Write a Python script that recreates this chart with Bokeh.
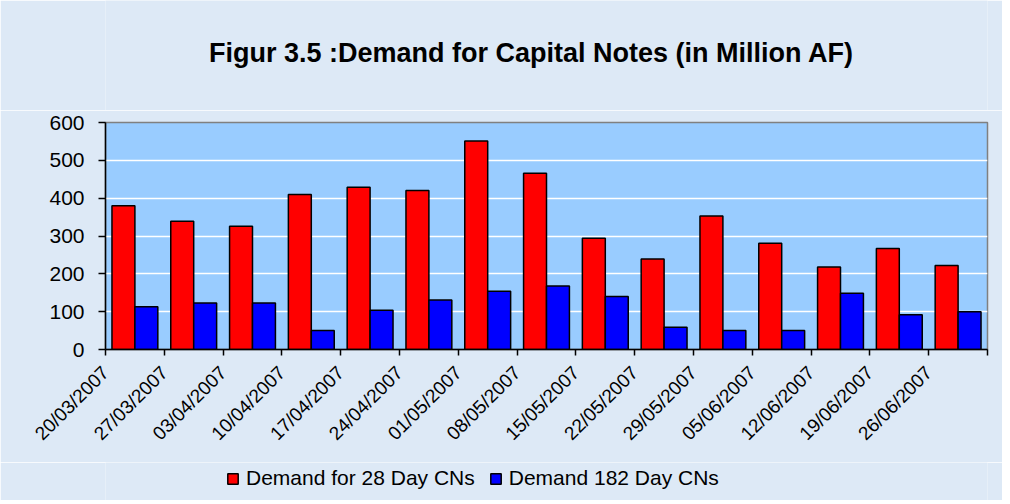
from bokeh.plotting import figure
from bokeh.models import FixedTicker, Legend, LegendItem, ColumnDataSource, Label
from bokeh.layouts import column
from bokeh.transform import dodge
from bokeh.embed import file_html
from bokeh.resources import INLINE
import math

dates = ["20/03/2007", "27/03/2007", "03/04/2007", "10/04/2007", "17/04/2007",
         "24/04/2007", "01/05/2007", "08/05/2007", "15/05/2007", "22/05/2007",
         "29/05/2007", "05/06/2007", "12/06/2007", "19/06/2007", "26/06/2007"]
demand_28 = [380, 339, 326, 410, 429, 420, 551, 466, 294, 239, 353, 281, 218, 267, 222]
demand_182 = [113, 123, 123, 50, 104, 131, 154, 168, 140, 59, 50, 50, 149, 92, 100]
y_ticks = [0, 100, 200, 300, 400, 500, 600]
title_text = "Figur 3.5 :Demand for Capital Notes (in Million AF)"
legend_labels = ["Demand for 28 Day CNs", "Demand 182 Day CNs"]
colors = ["#ff0000", "#0000ff"]

n = len(dates)
src = ColumnDataSource(dict(x=[i + 0.5 for i in range(n)], d28=demand_28, d182=demand_182))

FONT = "Liberation Sans"
BG = "#dde9f6"
W = 1002

# ---- title strip ----
t = figure(width=W, height=110, output_backend="svg", toolbar_location=None,
           x_range=(105, 987), y_range=(0, 110), min_border=0)
t.axis.visible = False
t.grid.visible = False
t.outline_line_color = None
t.background_fill_color = BG
t.border_fill_color = BG
t.add_layout(Label(x=531, y=58, text=title_text, text_align="center", text_baseline="alphabetic",
                   text_font=FONT, text_font_size="27px", text_font_style="bold",
                   text_color="black"))

# ---- main chart ----
p = figure(width=W, height=352, output_backend="svg", toolbar_location=None,
           x_range=(0, n), y_range=(0, 600),
           min_border_left=105, min_border_right=15, min_border_top=12, min_border_bottom=113)

p.background_fill_color = "#99ccff"
p.border_fill_color = BG
p.outline_line_color = "#808080"
p.outline_line_width = 1.5

r1 = p.vbar(x=dodge("x", -0.195, range=p.x_range), top="d28", width=0.39, source=src,
            fill_color=colors[0], line_color="black", line_width=1.5)
r2 = p.vbar(x=dodge("x", 0.195, range=p.x_range), top="d182", width=0.39, source=src,
            fill_color=colors[1], line_color="black", line_width=1.5)

p.yaxis.ticker = FixedTicker(ticks=y_ticks)
p.yaxis.minor_tick_line_color = None
p.yaxis.major_tick_out = 7
p.yaxis.major_tick_in = 0
p.yaxis.major_label_standoff = 14
p.yaxis.major_label_text_font = FONT
p.yaxis.major_label_text_font_size = "21px"
p.yaxis.major_label_text_color = "black"
p.yaxis.axis_line_color = "black"
p.yaxis.axis_line_width = 1.5
p.yaxis.major_tick_line_width = 1.5

# ticks at category boundaries, labels at the left boundary of each category
p.xaxis.ticker = FixedTicker(ticks=list(range(n + 1)))
overrides = {i: dates[i] for i in range(n)}
overrides[n] = ""
p.xaxis.major_label_overrides = overrides
p.xaxis.major_label_orientation = math.pi / 4
p.xaxis.minor_tick_line_color = None
p.xaxis.major_tick_out = 6
p.xaxis.major_tick_in = 0
p.xaxis.major_label_standoff = 14
p.xaxis.major_label_text_font = FONT
p.xaxis.major_label_text_font_size = "19px"
p.xaxis.major_label_text_color = "black"
p.xaxis.axis_line_color = "black"
p.xaxis.axis_line_width = 1.5
p.xaxis.major_tick_line_width = 1.5

p.xgrid.grid_line_color = None
p.ygrid.grid_line_color = "white"
p.ygrid.grid_line_width = 1.5

# ---- legend strip: same bar glyphs, hidden renderers, only the legend is shown ----
q = figure(width=W, height=38, output_backend="svg", toolbar_location=None,
           x_range=(0, n), y_range=(0, 600), min_border=0)
q.axis.visible = False
q.grid.visible = False
q.outline_line_color = None
q.background_fill_color = BG
q.border_fill_color = BG
q1 = q.vbar(x="x", top="d28", width=0.39, source=src,
            fill_color=colors[0], line_color="black", line_width=1.5, visible=False)
q2 = q.vbar(x="x", top="d182", width=0.39, source=src,
            fill_color=colors[1], line_color="black", line_width=1.5, visible=False)
legend = Legend(items=[LegendItem(label=legend_labels[0], renderers=[q1]),
                       LegendItem(label=legend_labels[1], renderers=[q2])],
                orientation="horizontal", location=(121, 10))
legend.background_fill_alpha = 0
legend.border_line_color = None
legend.inactive_fill_alpha = 0
legend.label_text_font = FONT
legend.label_text_font_size = "21px"
legend.label_text_color = "black"
legend.glyph_width = 13
legend.glyph_height = 13
legend.label_standoff = 7
legend.spacing = 14
legend.padding = 4
legend.margin = 0
q.add_layout(legend, "center")

layout = column(t, p, q, spacing=0)
open("out.html", "w").write(file_html(layout, INLINE))
